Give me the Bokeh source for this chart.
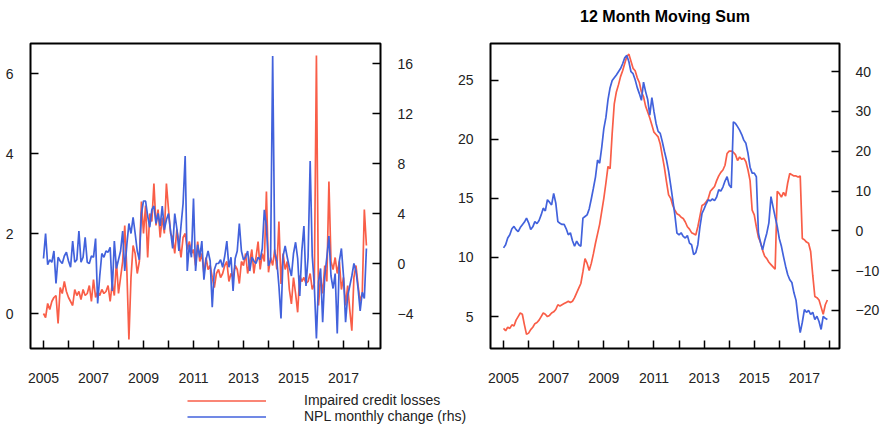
from bokeh.plotting import figure
from bokeh.models import Range1d, LinearAxis, FixedTicker, Legend, LegendItem, Label
from bokeh.layouts import column, row
from bokeh.embed import file_html
from bokeh.resources import INLINE

# ---------------- data ----------------
start_year = 2005
n_months = 156
months = [start_year + i / 12 for i in range(n_months)]
year_ticks = list(range(2005, 2019))
year_labels = {y: (str(y) if y % 2 == 1 else "") for y in year_ticks}

lhs_ticks_monthly = [0, 2, 4, 6]
rhs_ticks_monthly = [-4, 0, 4, 8, 12, 16]
lhs_ticks_sum = [5, 10, 15, 20, 25]
rhs_ticks_sum = [-20, -10, 0, 10, 20, 30, 40]

credit_losses = [
    0.0, -0.1, 0.25, 0.1, 0.3, 0.4, 0.45, -0.25, 0.65, 0.5, 0.8, 0.55,
    0.4, 0.3, 0.2, 0.6, 0.45, 0.55, 0.35, 0.6, 0.45, 0.5, 0.7, 0.3,
    0.85, 0.4, 0.55, 0.45, 0.6, 0.5, 0.55, 0.7, 0.3, 0.75, 0.45, 1.3,
    0.5, 0.9, 1.3, 2.2, 1.1, -0.65, 0.9, 1.7, 1.5, 1.0, 1.3, 2.8,
    2.0, 2.7, 1.4, 2.5, 2.3, 3.25, 2.2, 2.6, 1.9, 2.4, 2.0, 3.25,
    2.6, 2.0, 1.9, 1.5, 2.1, 1.8, 1.4, 1.9, 2.0, 1.6, 1.8, 1.5,
    1.6, 1.2, 1.8, 1.3, 1.5, 1.0, 1.4, 1.1, 1.2, 0.9, 0.65, 1.0,
    1.1, 0.9, 1.0, 1.2, 1.3, 0.8, 1.0, 0.9, 1.2, 1.1, 0.75, 1.3,
    1.2, 1.5, 1.0, 1.3, 1.6, 1.0, 1.4, 1.8, 1.1, 1.5, 1.3, 3.05,
    1.03, 1.4, 1.2, 1.6, 1.1, 2.3, 0.74, 1.5, 1.1, 1.3, 0.6, 0.24,
    0.9, 0.5, 0.03, 0.95, 0.8, 0.9, 0.75, 0.8, 1.0, 0.6, 0.75, 6.45,
    0.2, 0.9, 0.5, 1.2, 0.8, 3.3, 1.3, 1.1, 1.4, 1.0, 1.3, 0.6,
    0.9, 0.2, 0.7, 0.1, -0.43, 0.9, 1.2, 0.7, 0.3, 0.5, 2.6, 1.7,
]

npl_change = [
    0.4, 2.4, -0.1, 0.3, 0.1, 1.0, -1.6, 0.5, 0.2, 0.0, 0.6, 0.9,
    0.2, -0.3, 1.8, 0.1, 0.3, 2.6, 0.1, 0.5, 2.1, 0.1, 0.0, 0.6,
    0.5, 2.0, -3.2, -1.0, 0.8, 0.5, 1.0, 0.9, 1.3, -2.2, 1.8, -0.4,
    0.3, 1.0, 2.6, -0.6, 1.5, 3.2, 2.4, 3.7, 2.4, 1.0, 0.3, 4.0,
    5.0, 5.0, 3.8, 2.9, 4.3, 4.6, 3.2, 4.0, 3.0, 4.6, 2.7, 3.5,
    4.0, 2.6, 1.2, 4.0, 2.8, 1.0, 3.0, 4.8, 8.6, -0.6, 1.5, 0.5,
    5.2, -0.6, 1.5, 0.5, 1.8, -1.3, 0.3, 1.0, 0.2, -3.5, -0.5, 0.0,
    0.0, 0.3, -0.3, 0.6, 1.8, -0.3, 0.5, -2.2, 0.4, 1.0, 3.2, 1.0,
    0.3, 0.5, 1.0, -0.6, 0.5, 0.2, 0.0, 0.5, 0.3, 1.2, 4.3, 3.0,
    -0.2, 0.3, 16.6, 0.9, 0.2, -1.8, -4.4, 0.6, 1.4, 0.5, -0.3, -1.0,
    0.8, 1.7, 0.4, -2.6, 1.0, 3.0, -1.8, 0.5, 8.2, 0.6, -1.8, -6.0,
    -1.5, -0.4, -4.7, -1.0, 0.5, 2.2, -1.0, -2.0, -0.8, -5.6, 0.2, 1.2,
    -1.0, -4.7, -2.6, -1.8, -1.0, 0.0, -0.6, -2.0, -3.8, -2.3, -2.8, 1.2,
]

credit_losses_12m = [
    4.0, 3.8, 4.1, 4.0, 4.3, 4.2, 4.7, 5.0, 5.3, 5.2, 4.3, 3.5,
    3.6, 3.9, 4.1, 4.4, 4.5, 4.7, 5.0, 5.3, 5.2, 5.0, 5.1, 5.3,
    5.4, 5.6, 6.0, 5.9, 6.0, 6.1, 6.2, 6.3, 6.2, 6.3, 6.6, 7.0,
    7.4, 7.8, 8.8, 9.9, 9.5, 8.9, 9.5, 10.3, 11.2, 12.0, 12.8, 13.9,
    15.0, 16.3, 17.7, 17.5, 20.5, 23.0, 24.0, 24.6, 25.3, 25.8, 26.4, 27.0,
    27.2, 26.6, 26.0, 25.8, 25.2, 24.8, 24.0, 23.6, 22.8, 22.3, 21.8, 21.2,
    20.6, 20.4, 20.2, 19.6, 18.6, 17.6, 16.4, 15.3, 15.0, 14.4, 14.0, 13.7,
    13.6, 13.4, 13.3, 13.0, 12.6, 12.4, 12.1, 12.0, 11.9, 12.6, 13.5, 14.4,
    14.5, 14.7, 15.0, 15.6, 15.8, 16.0, 16.5, 16.9, 17.2, 17.4, 17.8, 18.8,
    19.0, 19.0, 18.9, 18.7, 18.2, 18.5, 18.3, 18.4, 18.1, 17.4, 16.5, 14.0,
    13.6, 12.6, 11.7, 11.3, 10.6, 10.1, 9.9, 9.6, 9.4, 9.2, 9.0, 15.6,
    15.4, 15.1, 15.5, 15.2, 16.3, 17.1, 17.0, 16.9, 16.9, 16.8, 16.9, 11.6,
    11.5, 11.3, 11.2, 10.5, 8.5, 6.7, 6.6, 6.4, 5.8, 5.2, 6.0, 6.4,
]

npl_change_12m = [
    -4.3, -3.5, -1.8, -1.0, 0.5, 1.1, 0.3, -0.2, 0.8, 1.5, 2.2, 3.2,
    2.0, 0.3, 1.0, 2.3, 1.8, 2.6, 4.0, 5.7, 5.0, 7.8, 7.2, 6.5,
    9.4, 7.0, 2.3, 1.9, 1.6, 1.6, 0.5, -1.0, -0.5, -2.5, -3.9, -2.6,
    -3.5, -3.9, 3.2, 3.6, 4.0, 5.5, 8.0, 10.7, 13.5, 17.8, 17.0, 21.0,
    25.7, 28.5, 33.0, 36.0, 37.8, 38.5, 39.2, 40.0, 40.8, 42.0, 43.5, 44.1,
    42.5, 40.0, 39.5, 38.0, 36.0, 34.5, 32.8, 37.4, 35.0, 33.0, 29.1, 33.5,
    30.0, 27.0, 25.0, 24.5, 22.4, 20.0, 17.8, 15.0, 11.5, 7.8, 4.0, -0.6,
    -1.0, -0.5, -1.4, -1.8, -1.2, -3.1, -3.5, -6.0, -5.5, -3.5, 1.0, 4.4,
    5.5, 6.8, 7.8, 7.5, 8.0, 7.6, 8.5, 10.3, 10.0, 11.0, 12.5, 13.6,
    11.5, 10.8, 27.4, 27.0, 26.2, 25.3, 24.2, 22.8, 22.0, 19.5, 16.0, 14.5,
    14.5, 13.6, -0.6, -3.0, -4.8, -2.5, -0.6, 2.0, 8.6, 6.0, 3.5, 1.1,
    -2.0, -3.9, -6.5, -8.9, -11.0, -12.3, -13.0, -15.6, -17.5, -22.0, -25.6, -23.0,
    -19.8, -20.5, -20.0, -21.0, -20.5, -22.3, -21.5, -22.8, -24.8, -21.5, -22.0, -22.3,
]

title_text = "12 Month Moving Sum"
legend_labels = ["Impaired credit losses", "NPL monthly change (rhs)"]

# ---------------- style ----------------
RED = "#F95E48"
BLUE = "#4262DC"
FONT = "Liberation Sans"
LW = 1.7
TOP = 24  # height of the strip holding the title


def style_axis(ax, ticks, standoff, overrides=None):
    ax.ticker = FixedTicker(ticks=ticks)
    if overrides is not None:
        ax.major_label_overrides = overrides
    ax.axis_line_color = None
    ax.major_tick_in = 8
    ax.major_tick_out = 0
    ax.minor_tick_in = 0
    ax.minor_tick_out = 0
    ax.major_tick_line_color = "black"
    ax.major_tick_line_width = 1.5
    ax.major_label_text_font = FONT
    ax.major_label_text_font_size = "14px"
    ax.major_label_text_color = "#222222"
    ax.major_label_standoff = standoff


def make_panel(width, height, border, xr, yl, yr, lhs, rhs, lhs_ticks, rhs_ticks, lstand, rstand):
    p = figure(width=width, height=height, x_range=Range1d(*xr), y_range=Range1d(*yl),
               toolbar_location=None, output_backend="svg",
               min_border_left=border[0], min_border_right=border[1],
               min_border_top=border[2], min_border_bottom=border[3])
    p.extra_y_ranges = {"rhs": Range1d(*yr)}
    p.xgrid.visible = False
    p.ygrid.visible = False
    p.outline_line_color = "black"
    p.outline_line_width = 2
    p.background_fill_color = "white"
    p.border_fill_color = "white"
    p.line(months, lhs, line_color=RED, line_width=LW)
    p.line(months, rhs, line_color=BLUE, line_width=LW, y_range_name="rhs")
    style_axis(p.xaxis[0], year_ticks, 24, year_labels)
    style_axis(p.yaxis[0], lhs_ticks, lstand)
    ax_r = LinearAxis(y_range_name="rhs")
    style_axis(ax_r, rhs_ticks, rstand)
    p.add_layout(ax_r, "right")
    return p


# title strip
p0 = figure(width=884, height=TOP, x_range=Range1d(0, 1), y_range=Range1d(0, 1),
            toolbar_location=None, output_backend="svg", min_border=0,
            x_axis_location=None, y_axis_location=None)
p0.xgrid.visible = False
p0.ygrid.visible = False
p0.outline_line_color = None
p0.add_layout(Label(x=664.5, y=TOP - 16, x_units="screen", y_units="screen", text=title_text,
                    text_align="center", text_baseline="middle", text_font=FONT,
                    text_font_size="16px", text_font_style="bold", text_color="black"))

p1 = make_panel(438, 391 - TOP, (30, 58, 43 - TOP, 43), (2004.48, 2018.48), (-0.875, 6.75), (-6.8, 17.6),
                credit_losses, npl_change, lhs_ticks_monthly, rhs_ticks_monthly, 17, 17)
p2 = make_panel(448, 391 - TOP, (52, 47, 43 - TOP, 42), (2004.48, 2018.40), (2.3, 28.1), (-29.6, 47.1),
                credit_losses_12m, npl_change_12m, lhs_ticks_sum, rhs_ticks_sum, 17, 16)

# legend strip
p3 = figure(width=884, height=34, x_range=Range1d(0, 1), y_range=Range1d(0, 1),
            toolbar_location=None, output_backend="svg", min_border=0,
            x_axis_location=None, y_axis_location=None)
p3.xgrid.visible = False
p3.ygrid.visible = False
p3.outline_line_color = None
r1 = p3.line(months, credit_losses, line_color=RED, line_width=LW)
r2 = p3.line(months, npl_change, line_color=BLUE, line_width=LW)
legend = Legend(items=[LegendItem(label=legend_labels[0], renderers=[r1]),
                       LegendItem(label=legend_labels[1], renderers=[r2])],
                location=(187, 1), orientation="vertical",
                glyph_width=79, glyph_height=15, label_height=15, label_width=10,
                label_standoff=38, spacing=-2, padding=0, margin=0,
                border_line_color=None, background_fill_alpha=0,
                label_text_font=FONT, label_text_font_size="14px",
                label_text_color="#222222")
p3.add_layout(legend)

layout = column(p0, row(p1, p2), p3)
open("out.html", "w").write(file_html(layout, INLINE))
